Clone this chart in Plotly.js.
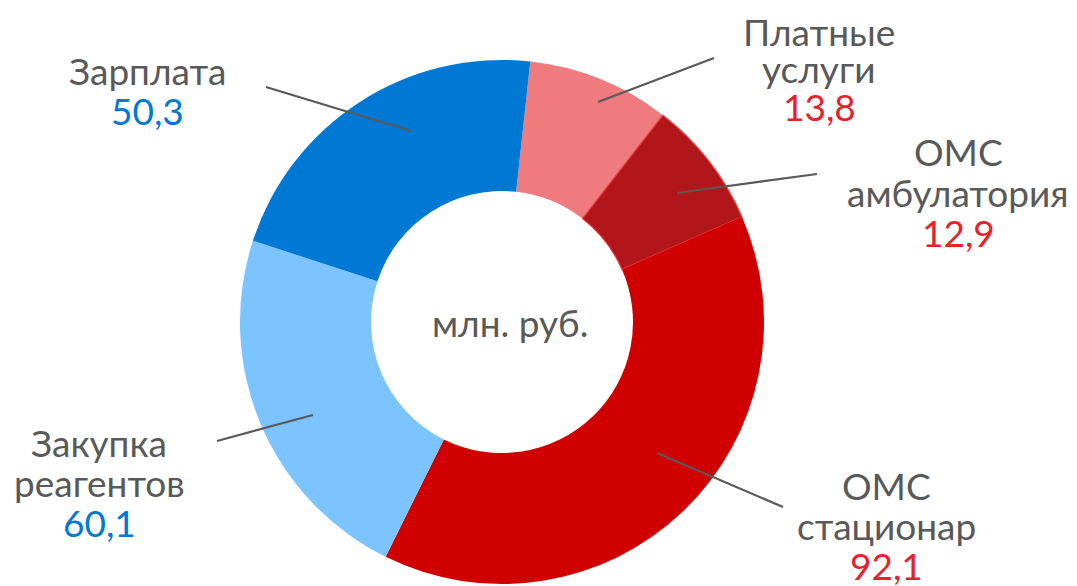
<!DOCTYPE html>
<html>
<head>
<meta charset="utf-8">
<script src="https://cdn.plot.ly/plotly-3.0.1.min.js"></script>
<style>html,body{margin:0;padding:0;background:#fff;}#chart{width:1077px;height:586px;}</style>
</head>
<body>
<div id="chart"></div>
<script>
// ---- data ----
const categories = ['Платные услуги', 'ОМС амбулатория', 'ОМС стационар', 'Закупка реагентов', 'Зарплата'];
const labelLines = [['Платные', 'услуги'], ['ОМС', 'амбулатория'], ['ОМС', 'стационар'], ['Закупка', 'реагентов'], ['Зарплата']];
const amounts = [13.8, 12.9, 92.1, 60.1, 50.3];          // values printed in the labels, млн. руб.
const sliceShares = [8.8, 7.9, 38.9, 22.7, 21.7];       // slice sizes as drawn in the ring (%)
const centerText = 'млн. руб.';

// ---- styles ----
const sliceColors = ['#F07B7E', '#B1161B', '#D00000', '#7BC4FF', '#0078D4'];
const sliceLineColors = ['#F07B7E', '#F0393F', '#D00000', '#7BC4FF', '#0078D4'];
const sliceLineWidths = [0, 1.2, 0, 0, 0];
const valueColors = ['#E3232C', '#E3232C', '#E3232C', '#0078D4', '#0078D4'];
const textGray = '#595959';
const FONT = 'Lato, "Open Sans", sans-serif';
const FS = 37;

const W = 1077, H = 586;
const px = x => x / W, py = y => 1 - y / H;

// label block layout (pixel positions): center x, first baseline, line pitch
const labelPos = [
  {cx: 819, b0: 44, pitch: 38},
  {cx: 958, b0: 165, pitch: 40},
  {cx: 886, b0: 498, pitch: 40},
  {cx: 99, b0: 455, pitch: 40},
  {cx: 147, b0: 83, pitch: 40}
];
// leader lines: outer end -> inner end (pixels)
const leaders = [
  [714, 58, 598, 102],
  [817, 174, 677, 193],
  [783, 507, 657, 453],
  [217, 441, 313, 415],
  [266, 87, 411, 131]
];

const fmt = v => v.toFixed(1).replace('.', ',');
const mid = b => b - 13;

const annotations = [];
categories.forEach((c, i) => {
  const lines = labelLines[i];
  const p = labelPos[i];
  lines.forEach((t, k) => {
    annotations.push({
      x: px(p.cx), y: py(mid(p.b0 + k * p.pitch)), xref: 'paper', yref: 'paper',
      xanchor: 'center', yanchor: 'middle', showarrow: false,
      text: t, font: {family: FONT, size: FS, color: textGray}
    });
  });
  annotations.push({
    x: px(p.cx), y: py(mid(p.b0 + lines.length * p.pitch)), xref: 'paper', yref: 'paper',
    xanchor: 'center', yanchor: 'middle', showarrow: false,
    text: fmt(amounts[i]), font: {family: FONT, size: FS, color: valueColors[i]}
  });
});
annotations.push({
  x: px(510), y: py(mid(335)), xref: 'paper', yref: 'paper', xanchor: 'center', yanchor: 'middle',
  showarrow: false, text: centerText, font: {family: FONT, size: FS, color: textGray}
});

const shapes = leaders.map(l => ({
  type: 'line', xref: 'paper', yref: 'paper',
  x0: px(l[0]), y0: py(l[1]), x1: px(l[2]), y1: py(l[3]),
  line: {color: textGray, width: 2.2}, layer: 'above'
}));

const cx = 502, cy = 322, R = 262;
const trace = {
  type: 'pie',
  labels: categories,
  values: sliceShares,
  sort: false,
  direction: 'clockwise',
  rotation: 6.2,
  hole: 0.5,
  textinfo: 'none',
  hoverinfo: 'none',
  showlegend: false,
  marker: {colors: sliceColors, line: {color: sliceLineColors, width: sliceLineWidths}},
  domain: {x: [px(cx - R), px(cx + R)], y: [py(cy + R), py(cy - R)]}
};

Plotly.newPlot('chart', [trace], {
  width: W, height: H,
  margin: {l: 0, r: 0, t: 0, b: 0},
  paper_bgcolor: '#ffffff',
  showlegend: false,
  annotations: annotations,
  shapes: shapes
}, {staticPlot: true});
</script>
</body>
</html>
